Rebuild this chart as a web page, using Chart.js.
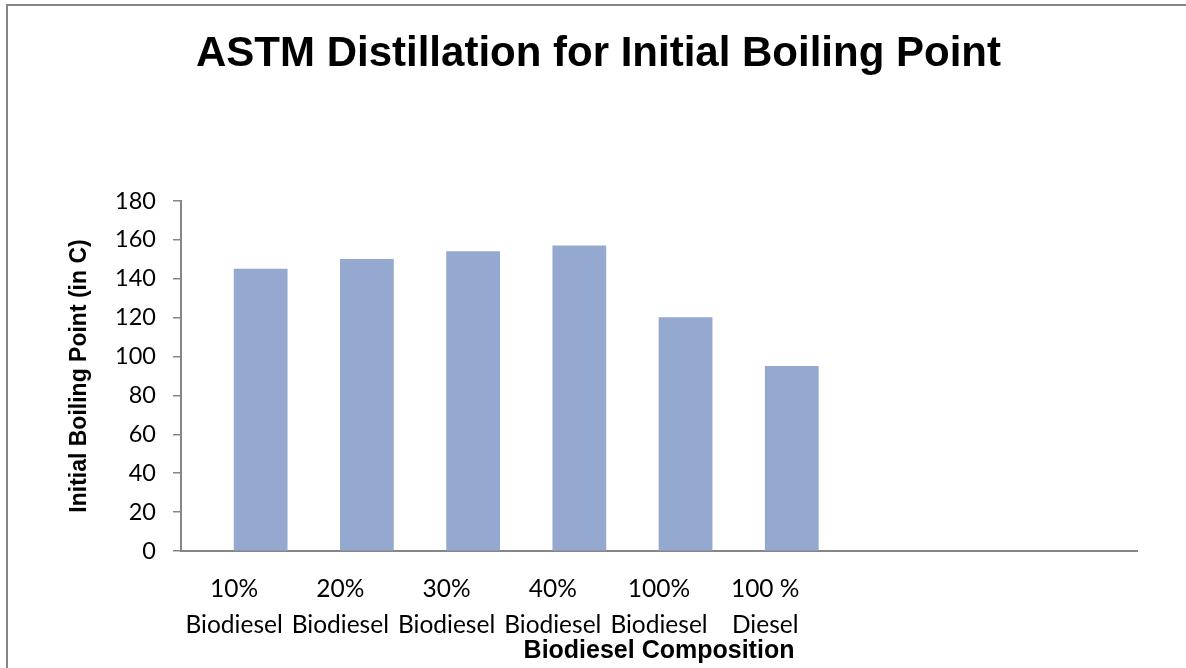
<!DOCTYPE html>
<html>
<head>
<meta charset="utf-8">
<script src="https://cdn.jsdelivr.net/npm/chart.js@4/dist/chart.umd.min.js"></script>
<style>
  html, body { margin: 0; padding: 0; background: #fff; overflow: hidden; }
  #wrap { position: relative; width: 1186px; height: 668px; overflow: hidden; }
  #frame { position: absolute; left: 6px; top: 4px; width: 1300px; height: 800px;
           border-left: 2px solid #868686; border-top: 2px solid #868686; }
  canvas { position: absolute; left: 0; top: 0; }
</style>
</head>
<body>
<div id="wrap">
  <div id="frame"></div>
  <canvas id="c" width="1186" height="668"></canvas>
</div>
<script>
// ---- data ----
const labelLine1 = ['10%', '20%', '30%', '40%', '100%', '100 %', '', '', ''];
const labelLine2 = ['Biodiesel', 'Biodiesel', 'Biodiesel', 'Biodiesel', 'Biodiesel', 'Diesel', '', '', ''];
// the source chart holds an empty first series, which pushes the bars right of their labels
const emptySeries = [null, null, null, null, null, null, null, null, null];
const boilingPoint = [145, 150, 154, 157, 120, 95, null, null, null];
const yTicksMin = 0;
const yTicksMax = 180;
const yTickStep = 20;
const chartTitle = 'ASTM Distillation for Initial Boiling Point';
const xTitle = 'Biodiesel Composition';
const yTitle = 'Initial Boiling Point (in C)';

const labels = labelLine1.map((l, i) => [l, labelLine2[i]]);

const boldFont = "'Liberation Sans', Arial, sans-serif";
const tickFont = "Lato, 'Open Sans', sans-serif";

new Chart(document.getElementById('c'), {
  type: 'bar',
  data: {
    labels: labels,
    datasets: [
      {
        label: 'Series 1',
        data: emptySeries,
        backgroundColor: '#95a9d0',
        borderWidth: 0,
        barPercentage: 1.0,
        categoryPercentage: 1.0
      },
      {
        label: 'Initial Boiling Point',
        data: boilingPoint,
        backgroundColor: '#95a9d0',
        borderWidth: 0,
        barPercentage: 1.0,
        categoryPercentage: 1.0
      }
    ]
  },
  options: {
    responsive: false,
    devicePixelRatio: 1,
    animation: false,
    layout: { padding: { left: 60, right: 49, top: 0, bottom: 0 } },
    plugins: {
      legend: { display: false },
      tooltip: { enabled: false },
      title: {
        display: true,
        text: chartTitle,
        color: '#000',
        font: { family: boldFont, size: 42, weight: 'bold', lineHeight: 1.2 },
        padding: { top: 29, bottom: 121.6 }
      }
    },
    scales: {
      x: {
        grid: { display: false, drawTicks: false },
        border: { display: true, color: '#868686', width: 2 },
        ticks: {
          color: '#000',
          font: { family: tickFont, size: 24.5, lineHeight: 1.47 },
          padding: 20,
          maxRotation: 0,
          autoSkip: false
        },
        title: {
          display: true,
          text: xTitle,
          color: '#000',
          font: { family: boldFont, size: 25, weight: 'bold', lineHeight: 1.2 },
          padding: { top: 0, bottom: 2 }
        },
        afterFit: (s) => { s.height = 117; }
      },
      y: {
        min: yTicksMin,
        max: yTicksMax,
        grid: { display: true, drawOnChartArea: false, drawTicks: true, tickLength: 8, color: '#868686', lineWidth: 1.5 },
        border: { display: true, color: '#868686', width: 2 },
        ticks: {
          stepSize: yTickStep,
          color: '#000',
          font: { family: tickFont, size: 23.5 },
          padding: 17
        },
        title: {
          display: true,
          text: yTitle,
          color: '#000',
          font: { family: boldFont, size: 23, weight: 'bold', lineHeight: 1.2 },
          padding: { top: 6.2, bottom: 0 }
        },
        afterFit: (s) => { s.width = 121; }
      }
    }
  }
});
</script>
</body>
</html>
